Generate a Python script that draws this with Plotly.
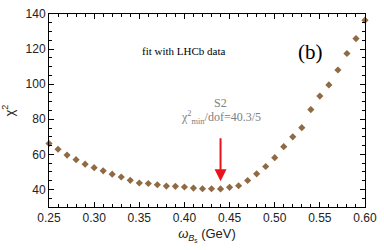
import plotly.graph_objects as go

omega = [0.25, 0.26, 0.27, 0.28, 0.29, 0.30, 0.31, 0.32, 0.33, 0.34, 0.35, 0.36,
         0.37, 0.38, 0.39, 0.40, 0.41, 0.42, 0.43, 0.44, 0.45, 0.46, 0.47, 0.48,
         0.49, 0.50, 0.51, 0.52, 0.53, 0.54, 0.55, 0.56, 0.57, 0.58, 0.59, 0.60]
chi2 = [66.2, 62.9, 59.6, 57.0, 54.4, 52.4, 50.6, 48.7, 47.1, 45.2, 43.7, 43.4,
        42.7, 41.9, 41.8, 41.4, 40.8, 40.4, 40.4, 40.3, 41.2, 42.1, 45.1, 48.9,
        53.1, 58.1, 64.4, 70.0, 75.2, 85.5, 93.2, 99.6, 108.1, 117.5, 126.0, 136.5]

arrow_x = 0.44
arrow_top = 70.0
arrow_tip = 44.7

fig = go.Figure()
fig.add_trace(go.Scatter(
    x=omega, y=chi2, mode="markers",
    marker=dict(symbol="diamond", size=5.5, color="#8f6a45"),
    cliponaxis=False, showlegend=False))

fig.add_annotation(x=arrow_x, y=arrow_tip, ax=arrow_x, ay=arrow_top,
                   xref="x", yref="y", axref="x", ayref="y",
                   showarrow=True, arrowhead=2, arrowsize=1.2, arrowwidth=2,
                   arrowcolor="#e8131b", text="")
fig.add_annotation(x=0.44, y=89.3, xref="x", yref="y", showarrow=False,
                   text="S2", font=dict(family="Liberation Serif", size=12, color="#808080"))
fig.add_annotation(x=0.44, y=81.0, xref="x", yref="y", showarrow=False,
                   text="χ<sup>2</sup><sub>min</sub>/dof=40.3/5",
                   font=dict(family="Liberation Serif", size=12, color="#808080"))
fig.add_annotation(x=0.40, y=119.1, xref="x", yref="y", showarrow=False,
                   text="fit with LHCb data",
                   font=dict(family="Liberation Serif", size=11, color="black"))
fig.add_annotation(x=0.5397, y=118.5, xref="x", yref="y", showarrow=False,
                   text="(b)",
                   font=dict(family="Liberation Serif", size=21, color="black"))

axis_common = dict(showline=True, linecolor="black", linewidth=1, mirror="allticks",
                   ticks="inside", ticklen=5, tickcolor="black", showgrid=False,
                   zeroline=False,
                   tickfont=dict(family="Liberation Sans", size=12, color="#222222"))

fig.update_xaxes(range=[0.25, 0.60], dtick=0.05, tick0=0.25, tickformat=".2f",
                 minor=dict(dtick=0.01, ticks="inside", ticklen=3, tickcolor="black"),
                 title=dict(text="<i>ω</i><sub><i>B</i><sub>s</sub></sub> (GeV)",
                            font=dict(family="Liberation Sans", size=13, color="#222222"),
                            standoff=4),
                 **axis_common)
fig.update_yaxes(range=[30, 140], dtick=20, tick0=40,
                 minor=dict(dtick=5, ticks="inside", ticklen=3, tickcolor="black"),
                 title=dict(text="χ<sup>2</sup>",
                            font=dict(family="Liberation Sans", size=13, color="#222222"),
                            standoff=8),
                 **axis_common)

fig.update_layout(width=384, height=250, margin=dict(l=49, r=13, t=7, b=43),
                  plot_bgcolor="white", paper_bgcolor="white")

fig.write_html("out.html", config={"displayModeBar": False},
               post_script="document.body.style.margin='0';")
